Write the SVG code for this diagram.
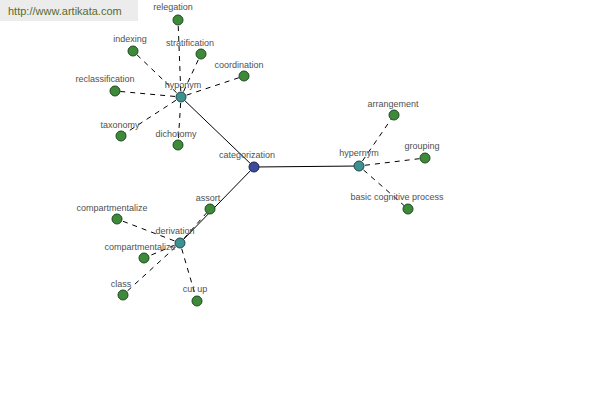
<svg xmlns="http://www.w3.org/2000/svg" width="600" height="400" viewBox="0 0 600 400">
<style>
text{font-family:"Liberation Sans",Arial,sans-serif;font-size:9px;fill:#505050;text-anchor:middle}
.solid{stroke:#000;stroke-width:1;fill:none}
.dash{stroke:#000;stroke-width:1;fill:none;stroke-dasharray:5,5;stroke-dashoffset:-6}
.leaf{fill:#3f8a3a;stroke:#1e4a1e;stroke-width:1}
.hub{fill:#3f9090;stroke:#1f4a4a;stroke-width:1}
.root{fill:#3c4a9c;stroke:#1c2450;stroke-width:1}
</style>
<rect x="0" y="0" width="600" height="400" fill="#fff"/>
<rect x="0" y="0" width="138" height="21" fill="#ececec"/>
<text x="8" y="15" style="font-size:11px;fill:#5a6b2e;text-anchor:start">http://www.artikata.com</text>
<g id="connectors">
<line class="solid" x1="254" y1="167" x2="181" y2="97"/>
<line class="solid" x1="254" y1="167" x2="359" y2="166"/>
<line class="solid" x1="254" y1="167" x2="180" y2="243"/>
<line class="dash" x1="181" y1="97" x2="178" y2="20"/>
<line class="dash" x1="181" y1="97" x2="133" y2="51"/>
<line class="dash" x1="181" y1="97" x2="201" y2="54"/>
<line class="dash" x1="181" y1="97" x2="244" y2="76"/>
<line class="dash" x1="181" y1="97" x2="115" y2="91"/>
<line class="dash" x1="181" y1="97" x2="121" y2="136"/>
<line class="dash" x1="181" y1="97" x2="178" y2="145"/>
<line class="dash" x1="359" y1="166" x2="394" y2="115"/>
<line class="dash" x1="359" y1="166" x2="425" y2="158"/>
<line class="dash" x1="359" y1="166" x2="408" y2="209"/>
<line class="dash" x1="180" y1="243" x2="210" y2="209"/>
<line class="dash" x1="180" y1="243" x2="117" y2="219"/>
<line class="dash" x1="180" y1="243" x2="144" y2="258"/>
<line class="dash" x1="180" y1="243" x2="123" y2="295"/>
<line class="dash" x1="180" y1="243" x2="197" y2="301"/>
</g>
<g id="categorization"><circle class="root" cx="254" cy="167" r="5"/><text x="247" y="158">categorization</text></g>
<g id="hyponym"><circle class="hub" cx="181" cy="97" r="5"/><text x="183" y="88">hyponym</text></g>
<g id="hypernym"><circle class="hub" cx="359" cy="166" r="5"/><text x="359" y="156">hypernym</text></g>
<g id="derivation"><circle class="hub" cx="180" cy="243" r="5"/><text x="175" y="234">derivation</text></g>
<g id="relegation"><circle class="leaf" cx="178" cy="20" r="5"/><text x="173" y="10">relegation</text></g>
<g id="indexing"><circle class="leaf" cx="133" cy="51" r="5"/><text x="130" y="42">indexing</text></g>
<g id="stratification"><circle class="leaf" cx="201" cy="54" r="5"/><text x="190" y="46">stratification</text></g>
<g id="coordination"><circle class="leaf" cx="244" cy="76" r="5"/><text x="239" y="68">coordination</text></g>
<g id="reclassification"><circle class="leaf" cx="115" cy="91" r="5"/><text x="105" y="82">reclassification</text></g>
<g id="taxonomy"><circle class="leaf" cx="121" cy="136" r="5"/><text x="120" y="128">taxonomy</text></g>
<g id="dichotomy"><circle class="leaf" cx="178" cy="145" r="5"/><text x="176" y="137">dichotomy</text></g>
<g id="arrangement"><circle class="leaf" cx="394" cy="115" r="5"/><text x="393" y="107">arrangement</text></g>
<g id="grouping"><circle class="leaf" cx="425" cy="158" r="5"/><text x="422" y="149">grouping</text></g>
<g id="basic-cognitive-process"><circle class="leaf" cx="408" cy="209" r="5"/><text x="397" y="200">basic cognitive process</text></g>
<g id="assort"><circle class="leaf" cx="210" cy="209" r="5"/><text x="208" y="201">assort</text></g>
<g id="compartmentalize-1"><circle class="leaf" cx="117" cy="219" r="5"/><text x="112" y="211">compartmentalize</text></g>
<g id="compartmentalize-2"><circle class="leaf" cx="144" cy="258" r="5"/><text x="140" y="250">compartmentalize</text></g>
<g id="class"><circle class="leaf" cx="123" cy="295" r="5"/><text x="121" y="287">class</text></g>
<g id="cut-up"><circle class="leaf" cx="197" cy="301" r="5"/><text x="195" y="292">cut up</text></g>
</svg>
